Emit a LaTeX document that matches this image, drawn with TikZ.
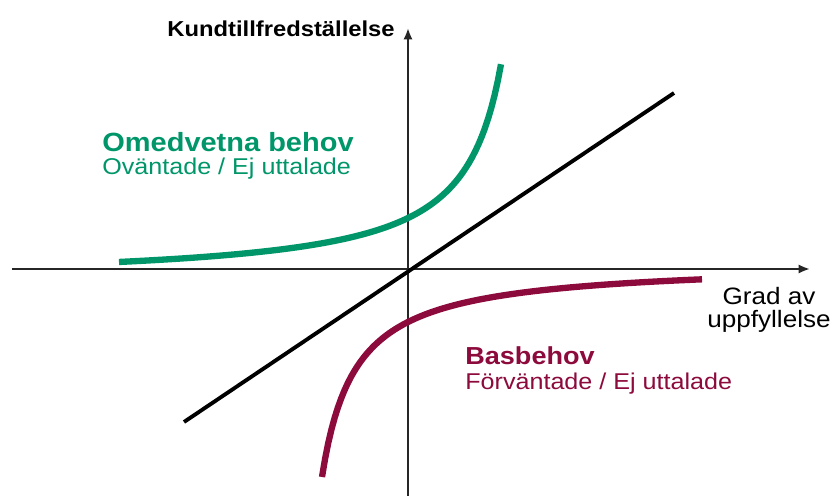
\documentclass[tikz,border=0pt]{standalone}
\usepackage{fontspec}
\setmainfont{Liberation Sans}[FakeStretch=1.1]
\usetikzlibrary{arrows.meta}
\definecolor{gron}{RGB}{0,150,105}
\definecolor{vinrod}{RGB}{140,10,60}
\begin{document}
\begin{tikzpicture}[x=0.02cm,y=0.02cm]
\tikzstyle{axel}=[line width=1.3pt, black!85, -{Latex[length=6.5pt,width=5.3pt]}]
\tikzstyle{kurva}=[line width=3.6pt]
\tikzstyle{etikett}=[inner sep=0pt, anchor=base west]
\useasboundingbox (-408,-227) rectangle (426,269);
\coordinate (o) at (0,0);
\coordinate (xv) at (-396,0);
\coordinate (xh) at (402,0);
\coordinate (yn) at (0,-227);
\coordinate (yu) at (0,241);
\coordinate (dv) at (-224,-153);
\coordinate (dh) at (266,176);
% axlar
\draw[axel] (xv) -- (xh);
\draw[axel] (yn) -- (yu);
% diagonal
\draw[line width=2.2pt] (dv) -- (dh);
% kurvor
\draw[kurva, gron] plot[domain=-289:93, samples=120] (\x, {-13 + 8427/(131.7-\x)});
\draw[kurva, vinrod] plot[domain=-86:294, samples=120] (\x, {7 - 7159/(\x+119.3)});
% texter
\node[etikett, anchor=base east, font=\bfseries\fontsize{12.3}{14}\selectfont] (kund) at (-13,232) {Kundtillfredställelse};
\node[etikett, anchor=base, font=\fontsize{13.5}{16}\selectfont] (grad) at (361,-36) {Grad av};
\node[etikett, anchor=base, font=\fontsize{13.5}{16}\selectfont] (uppf) at (361,-59) {uppfyllelse};
\node[etikett, text=gron, font=\bfseries\fontsize{15}{18}\selectfont] (omed) at (-306,117) {Omedvetna behov};
\node[etikett, text=gron, font=\fontsize{13}{16}\selectfont] (ovan) at (-306,94) {Oväntade / Ej uttalade};
\node[etikett, text=vinrod, font=\bfseries\fontsize{14}{17}\selectfont] (bas) at (57,-96) {Basbehov};
\node[etikett, text=vinrod, font=\fontsize{13}{16}\selectfont] (forv) at (57,-121) {Förväntade / Ej uttalade};
\end{tikzpicture}
\end{document}
